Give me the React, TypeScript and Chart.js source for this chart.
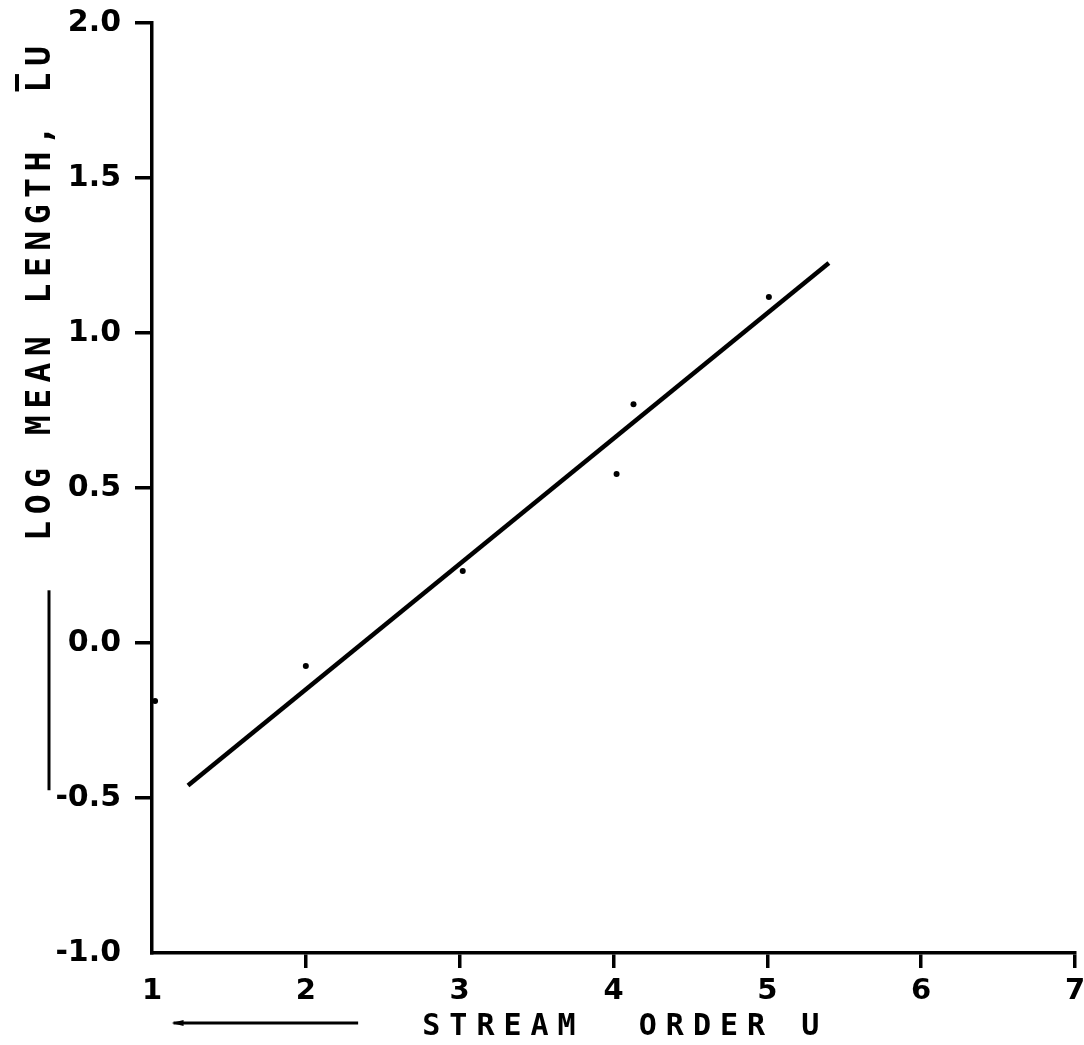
import React, { useEffect, useRef } from "react";
import { Chart, registerables } from "chart.js";

Chart.register(...registerables);

// Data
const orderU = [1.02, 2.0, 3.02, 4.02, 4.13, 5.01];
const logMeanLength = [-0.187, -0.074, 0.232, 0.545, 0.77, 1.116];
const fitOrder = [1.234, 5.4];
const fitLog = [-0.46, 1.226];
const xTickValues = [1, 2, 3, 4, 5, 6, 7];
const yTickValues = [-1.0, -0.5, 0.0, 0.5, 1.0, 1.5, 2.0];
const xTitle = "STREAM  ORDER U";
const yTitleMain = "LOG MEAN LENGTH, ";
const yTitleSym = "LU";

const decorPlugin = {
  id: "decor",
  afterDraw(chart: any) {
    const ctx = chart.ctx as CanvasRenderingContext2D;
    const area = chart.chartArea;
    const xs = chart.scales.x;
    const ys = chart.scales.y;
    ctx.save();
    ctx.fillStyle = "#000";
    ctx.strokeStyle = "#000";

    // X axis title
    ctx.font = "bold 30px 'DejaVu Sans Mono'";
    (ctx as any).letterSpacing = "9px";
    ctx.textAlign = "left";
    ctx.textBaseline = "alphabetic";
    ctx.fillText(xTitle, xs.getPixelForValue(2.757), area.bottom + 82);

    // Y axis title (rotated)
    ctx.save();
    ctx.font = "bold 33px 'DejaVu Sans Mono'";
    (ctx as any).letterSpacing = "6.5px";
    ctx.translate(area.left - 102, ys.getPixelForValue(0.33));
    ctx.rotate(-Math.PI / 2);
    ctx.fillText(yTitleMain + yTitleSym, 0, 0);
    const wMain = ctx.measureText(yTitleMain).width;
    const wL = ctx.measureText("L").width;
    ctx.lineWidth = 4;
    ctx.beginPath();
    ctx.moveTo(wMain + 1, -33);
    ctx.lineTo(wMain + wL - 8, -33);
    ctx.stroke();
    ctx.restore();

    // stray vertical bar at left
    ctx.lineWidth = 3;
    ctx.beginPath();
    ctx.moveTo(area.left - 103, ys.getPixelForValue(0.17));
    ctx.lineTo(area.left - 103, ys.getPixelForValue(-0.475));
    ctx.stroke();

    // arrow under x axis
    const ay = area.bottom + 70;
    const ax0 = xs.getPixelForValue(1.14);
    const ax1 = xs.getPixelForValue(2.34);
    ctx.lineWidth = 3;
    ctx.beginPath();
    ctx.moveTo(ax0, ay);
    ctx.lineTo(ax1, ay);
    ctx.stroke();
    ctx.beginPath();
    ctx.moveTo(ax0 - 2, ay);
    ctx.lineTo(ax0 + 10, ay - 3);
    ctx.lineTo(ax0 + 10, ay + 3);
    ctx.closePath();
    ctx.fill();
    ctx.restore();
  },
};

export default function App() {
  const ref = useRef<HTMLCanvasElement | null>(null);
  useEffect(() => {
    if (!ref.current) return;
    const chart = new Chart(ref.current, {
      type: "scatter",
      data: {
        datasets: [
          {
            label: "observed",
            data: orderU.map((x, i) => ({ x, y: logMeanLength[i] })),
            pointRadius: 3,
            pointBackgroundColor: "#000",
            pointBorderWidth: 0,
            showLine: false,
          },
          {
            label: "fit",
            data: fitOrder.map((x, i) => ({ x, y: fitLog[i] })),
            showLine: true,
            borderColor: "#000",
            borderWidth: 4.5,
            pointRadius: 0,
          },
        ],
      },
      plugins: [decorPlugin],
      options: {
        responsive: false,
        animation: false,
        devicePixelRatio: 1,
        layout: { padding: { top: 23, right: 9, left: 0, bottom: 0 } },
        plugins: { legend: { display: false }, tooltip: { enabled: false } },
        scales: {
          x: {
            type: "linear",
            min: 1,
            max: 7,
            afterFit: (s: any) => {
              s.height = 92;
              s.paddingLeft = 0;
              s.paddingRight = 0;
            },
            afterBuildTicks: (s: any) => {
              s.ticks = xTickValues.map((v) => ({ value: v }));
            },
            ticks: {
              color: "#000",
              font: { family: "'DejaVu Sans'", size: 29, weight: "bold" },
              padding: 6,
              maxRotation: 0,
              autoSkip: false,
              callback: (v: any) => String(v),
            },
            grid: {
              drawOnChartArea: false,
              drawTicks: true,
              tickLength: 15,
              lineWidth: 3.5,
              color: (c: any) => (c.tick && c.tick.value === 1 ? "rgba(0,0,0,0)" : "#000"),
            },
            border: { display: true, color: "#000", width: 3.5 },
          },
          y: {
            type: "linear",
            min: -1,
            max: 2,
            afterFit: (s: any) => {
              s.width = 152;
              s.paddingTop = 0;
              s.paddingBottom = 0;
            },
            afterBuildTicks: (s: any) => {
              s.ticks = yTickValues.map((v) => ({ value: v }));
            },
            ticks: {
              color: "#000",
              font: { family: "'DejaVu Sans'", size: 30, weight: "bold" },
              padding: 14,
              autoSkip: false,
              callback: (v: any) => Number(v).toFixed(1),
            },
            grid: {
              drawOnChartArea: false,
              drawTicks: true,
              tickLength: 17,
              lineWidth: 3.5,
              color: (c: any) => (c.tick && c.tick.value === -1 ? "rgba(0,0,0,0)" : "#000"),
            },
            border: { display: true, color: "#000", width: 3.5 },
          },
        },
      },
    });
    return () => chart.destroy();
  }, []);
  return (
    <canvas
      ref={ref}
      width={1084}
      height={1045}
      style={{ position: "absolute", left: 0, top: 0, background: "#fff" }}
    />
  );
}
